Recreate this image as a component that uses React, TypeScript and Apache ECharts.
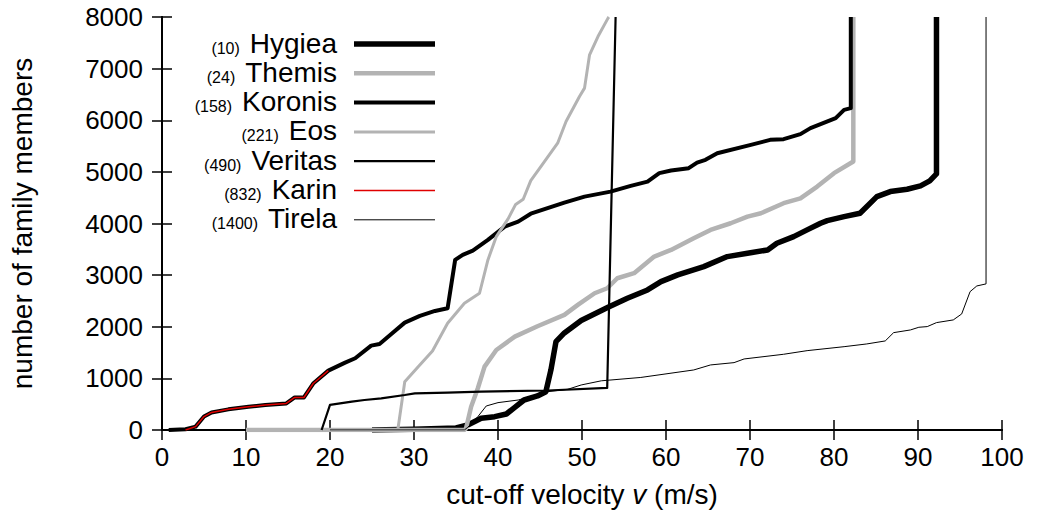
import React, { useEffect, useRef } from 'react';
import * as echarts from 'echarts';

const FONT = '"Liberation Sans", Arial, Helvetica, sans-serif';

const names = ['Hygiea', 'Themis', 'Koronis', 'Eos', 'Veritas', 'Karin', 'Tirela'];
const familyNumbers = ['10', '24', '158', '221', '490', '832', '1400'];
const colors = ['#000000', '#b3b3b3', '#000000', '#b3b3b3', '#000000', '#e00000', '#000000'];
const widths = [5.5, 4.5, 4, 3, 2.2, 1.5, 1];

const hygiea: [number, number][] = [
  [25, 0], [30, 15], [35, 40], [36.4, 97], [38.0, 226], [39.6, 258], [41.0, 310], [42.0, 440],
  [43.1, 581], [44.7, 659], [45.7, 742], [46.3, 1163], [46.9, 1711], [47.9, 1880], [49.9, 2120],
  [53.1, 2378], [55.4, 2552], [57.8, 2713], [59.4, 2874], [61.4, 3004], [64.5, 3165], [67.3, 3359],
  [69.7, 3423], [72.1, 3488], [73.2, 3618], [75.2, 3746], [76.8, 3876], [78.4, 4005], [79.2, 4056],
  [81.2, 4134], [83.1, 4199], [85.1, 4521], [86.7, 4618], [88.7, 4664], [90.3, 4729], [91.4, 4826],
  [92.2, 4960], [92.2, 8000],
];

const themis: [number, number][] = [
  [10, 0], [36.0, 0], [36.2, 33], [36.8, 451], [37.6, 808], [38.4, 1227], [39.8, 1550], [42.0, 1808],
  [44.7, 2010], [47.9, 2229], [49.5, 2423], [51.5, 2649], [53.0, 2746], [54.2, 2940], [56.2, 3037],
  [58.6, 3359], [60.6, 3488], [63.3, 3715], [65.3, 3876], [67.7, 4005], [69.7, 4134], [71.3, 4199],
  [74.0, 4393], [76.0, 4488], [78.0, 4716], [80.0, 4975], [82.3, 5200], [82.3, 8000],
];

const koronis: [number, number][] = [
  [0.8, 0], [2.8, 15], [4.0, 65], [5.0, 260], [5.9, 340], [7.9, 400], [10.3, 450], [12.3, 485],
  [14.8, 515], [15.8, 630], [16.9, 630], [18.0, 900], [19.8, 1150], [21.8, 1305], [23.0, 1390],
  [24.9, 1634], [25.9, 1667], [27.3, 1860], [28.9, 2080], [30.7, 2210], [32.5, 2306], [34.0, 2358],
  [34.9, 3295], [35.8, 3392], [37.0, 3475], [38.8, 3682], [40.8, 3940], [42.4, 4037], [43.9, 4190],
  [47.9, 4405], [50.3, 4521], [53.4, 4618], [55.8, 4729], [57.8, 4812], [59.2, 4975], [60.6, 5026],
  [62.7, 5072], [63.7, 5180], [64.7, 5233], [66.1, 5360], [70.1, 5523], [72.4, 5620], [74.0, 5634],
  [76.0, 5731], [77.2, 5847], [80.2, 6040], [81.2, 6202], [82.0, 6234], [82.0, 8000],
];

const eos: [number, number][] = [
  [28.0, 0], [28.1, 33], [28.9, 936], [30.5, 1227], [32.2, 1530], [34.0, 2068], [36.0, 2455],
  [37.8, 2649], [38.8, 3295], [39.8, 3746], [41.2, 4090], [42.1, 4370], [43.0, 4470], [43.9, 4830],
  [45.1, 5103], [47.1, 5556], [48.1, 5975], [49.7, 6460], [50.3, 6622], [50.9, 7268], [51.9, 7622],
  [53.1, 7978], [53.2, 8000],
];

const veritas: [number, number][] = [
  [19.0, 0], [20.0, 485], [22.6, 550], [24.1, 581], [26.1, 614], [28.9, 678], [30.1, 711],
  [34.0, 723], [38.0, 742], [45.9, 765], [53.0, 815], [54.0, 8000],
];

const karin: [number, number][] = [
  [2.8, 0], [4.0, 65], [5.0, 260], [5.9, 340], [7.9, 400], [10.3, 450], [12.3, 485], [14.8, 515],
  [15.8, 630], [16.9, 630], [18.0, 900], [19.8, 1150],
];

const tirela: [number, number][] = [
  [20, 0], [36.0, 0], [36.4, 52], [37.6, 258], [38.6, 465], [40.0, 530], [42.4, 581], [45.9, 742],
  [48.3, 788], [49.9, 872], [52.3, 953], [57.0, 1018], [63.3, 1163], [65.3, 1260], [68.1, 1305],
  [69.3, 1376], [74.0, 1467], [76.8, 1537], [81.2, 1614], [83.9, 1667], [86.1, 1725], [87.1, 1886],
  [89.1, 1938], [90.1, 1990], [91.1, 2003], [92.2, 2080], [94.2, 2132], [95.2, 2248], [96.2, 2680],
  [97.0, 2790], [98.1, 2830], [98.1, 8000],
];

const seriesData = [hygiea, themis, koronis, eos, veritas, karin, tirela];

const X_MIN = 0, X_MAX = 100, X_STEP = 10;
const Y_MIN = 0, Y_MAX = 8000, Y_STEP = 1000;

export default function App() {
  const ref = useRef<HTMLDivElement>(null);
  useEffect(() => {
    if (!ref.current) return;
    const chart = echarts.init(ref.current, undefined, { renderer: 'svg' });
    const axisLine = { show: true, lineStyle: { color: '#000', width: 2 } };
    const axisTick = { show: true, inside: true, length: 10, lineStyle: { color: '#000', width: 1.5 } };

    const legendElements: any[] = [];
    names.forEach((n, i) => {
      const y = 43 + i * 29.3;
      legendElements.push({
        type: 'text',
        x: 337,
        y: y,
        style: {
          text: `{s|(${familyNumbers[i]})}{n|${n}}`,
          align: 'right',
          verticalAlign: 'middle',
          textAlign: 'right',
          textVerticalAlign: 'middle',
          fill: '#000',
          rich: {
            s: { fontSize: 16, fontFamily: FONT, fill: '#000', verticalAlign: 'bottom', padding: [0, 10, 1, 0] },
            n: { fontSize: 28, fontFamily: FONT, fill: '#000', verticalAlign: 'bottom' },
          },
        },
        z: 100,
      });
      legendElements.push({
        type: 'line',
        shape: { x1: 354, y1: y + 1, x2: 435, y2: y + 1 },
        style: { stroke: colors[i], lineWidth: widths[i] },
        z: 100,
      });
    });

    chart.setOption({
      animation: false,
      backgroundColor: '#ffffff',
      grid: { left: 160, right: 36, top: 17, bottom: 89, containLabel: false },
      xAxis: [
        {
          type: 'value', min: X_MIN, max: X_MAX, interval: X_STEP, position: 'bottom',
          axisLine, axisTick, splitLine: { show: false },
          axisLabel: { color: '#000', fontSize: 26, fontFamily: FONT, margin: 14 },
          name: '{a|cut-off velocity }{b|v}{a| (m/s)}',
          nameLocation: 'middle', nameGap: 50,
          nameTextStyle: {
            color: '#000',
            rich: {
              a: { fontSize: 28, fontFamily: FONT, color: '#000' },
              b: { fontSize: 28, fontFamily: FONT, fontStyle: 'italic', color: '#000' },
            },
          },
        },
        {
          type: 'value', min: X_MIN, max: X_MAX, interval: X_STEP, position: 'top',
          axisLine, axisTick, splitLine: { show: false }, axisLabel: { show: false },
        },
      ],
      yAxis: [
        {
          type: 'value', min: Y_MIN, max: Y_MAX, interval: Y_STEP, position: 'left',
          axisLine, axisTick, splitLine: { show: false },
          axisLabel: { color: '#000', fontSize: 26, fontFamily: FONT, margin: 19, formatter: (v: number) => String(v) },
          name: 'number of family members',
          nameLocation: 'middle', nameGap: 126,
          nameTextStyle: { color: '#000', fontSize: 28, fontFamily: FONT },
        },
        {
          type: 'value', min: Y_MIN, max: Y_MAX, interval: Y_STEP, position: 'right',
          axisLine, axisTick, splitLine: { show: false }, axisLabel: { show: false },
        },
      ],
      series: seriesData.map((d, i) => ({
        name: names[i],
        type: 'line',
        data: d,
        showSymbol: false,
        symbol: 'none',
        clip: true,
        lineStyle: { color: colors[i], width: widths[i], join: 'round' },
        itemStyle: { color: colors[i] },
        emphasis: { disabled: true },
        z: 2 + i,
      })),
      graphic: legendElements,
    });
    return () => chart.dispose();
  }, []);
  return <div ref={ref} style={{ position: 'fixed', left: 0, top: 0, width: 1038, height: 519 }} />;
}
